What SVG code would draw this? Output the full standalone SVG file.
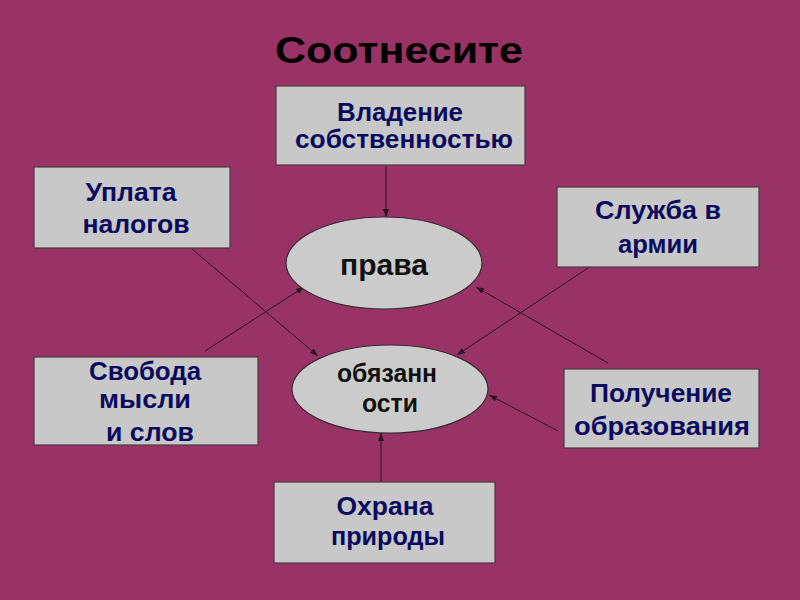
<svg xmlns="http://www.w3.org/2000/svg" width="800" height="600" viewBox="0 0 800 600">
<defs>
<marker id="arr" viewBox="0 0 8 6" refX="8" refY="3" markerWidth="8" markerHeight="6" markerUnits="userSpaceOnUse" orient="auto">
<path d="M0,0 L8,3 L0,6 z" fill="#2a1520"/>
</marker>
<style>
.box{fill:#c8c8c8;stroke:#4a3a40;stroke-width:1.2}
.ell{fill:#cbcbcb;stroke:#3a2a30;stroke-width:1.2}
.t{font-family:"Liberation Sans",Arial,sans-serif;font-weight:bold;font-size:25px;fill:#0b0b5e;text-anchor:middle}
.e{font-family:"Liberation Sans",Arial,sans-serif;font-weight:bold;fill:#111;text-anchor:middle}
.c{stroke:#2a1520;stroke-width:1;fill:none;marker-end:url(#arr)}
</style>
</defs>
<rect width="800" height="600" fill="#993366"/>
<text x="399" y="63" font-family="Liberation Sans, Arial, sans-serif" font-weight="bold" font-size="36" fill="#000" text-anchor="middle" textLength="248" lengthAdjust="spacingAndGlyphs">Соотнесите</text>

<g id="connectors">
<line class="c" x1="386" y1="166" x2="386" y2="217"/>
<line class="c" x1="192" y1="249" x2="318" y2="356"/>
<line class="c" x1="205" y1="351" x2="304" y2="287"/>
<line class="c" x1="588" y1="268" x2="457" y2="355"/>
<line class="c" x1="608" y1="363" x2="476" y2="287"/>
<line class="c" x1="558" y1="431" x2="489" y2="395"/>
<line class="c" x1="381" y1="482" x2="381" y2="433"/>
</g>

<g id="node-vladenie">
<rect class="box" x="276" y="86" width="249" height="79"/>
<text class="t" x="400" y="121" textLength="126" lengthAdjust="spacingAndGlyphs">Владение</text>
<text class="t" x="404" y="148" textLength="218" lengthAdjust="spacingAndGlyphs">собственностью</text>
</g>
<g id="node-uplata">
<rect class="box" x="34" y="167" width="196" height="81"/>
<text class="t" x="131" y="201" textLength="91" lengthAdjust="spacingAndGlyphs">Уплата</text>
<text class="t" x="136" y="233" textLength="107" lengthAdjust="spacingAndGlyphs">налогов</text>
</g>
<g id="node-sluzhba">
<rect class="box" x="557" y="187" width="202" height="80"/>
<text class="t" x="658" y="219" textLength="126" lengthAdjust="spacingAndGlyphs">Служба в</text>
<text class="t" x="658" y="253" textLength="80" lengthAdjust="spacingAndGlyphs">армии</text>
</g>
<g id="node-svoboda">
<rect class="box" x="34" y="357" width="224" height="88"/>
<text class="t" x="145" y="380" textLength="112" lengthAdjust="spacingAndGlyphs">Свобода</text>
<text class="t" x="145" y="408" textLength="92" lengthAdjust="spacingAndGlyphs">мысли</text>
<text class="t" x="150" y="441" textLength="88" lengthAdjust="spacingAndGlyphs">и слов</text>
</g>
<g id="node-poluchenie">
<rect class="box" x="564" y="369" width="195" height="79"/>
<text class="t" x="661" y="402" textLength="142" lengthAdjust="spacingAndGlyphs">Получение</text>
<text class="t" x="662" y="435" textLength="176" lengthAdjust="spacingAndGlyphs">образования</text>
</g>
<g id="node-ohrana">
<rect class="box" x="274" y="482" width="221" height="81"/>
<text class="t" x="385" y="515" textLength="97" lengthAdjust="spacingAndGlyphs">Охрана</text>
<text class="t" x="388" y="545" textLength="114" lengthAdjust="spacingAndGlyphs">природы</text>
</g>
<g id="node-prava">
<ellipse class="ell" cx="384" cy="263" rx="98" ry="46"/>
<text class="e" x="384" y="275" font-size="30" textLength="88" lengthAdjust="spacingAndGlyphs">права</text>
</g>
<g id="node-obyazannosti">
<ellipse class="ell" cx="390" cy="389" rx="98" ry="44"/>
<text class="e" x="387" y="382" font-size="25" textLength="100" lengthAdjust="spacingAndGlyphs">обязанн</text>
<text class="e" x="390" y="412" font-size="25" textLength="56" lengthAdjust="spacingAndGlyphs">ости</text>
</g>
</svg>
